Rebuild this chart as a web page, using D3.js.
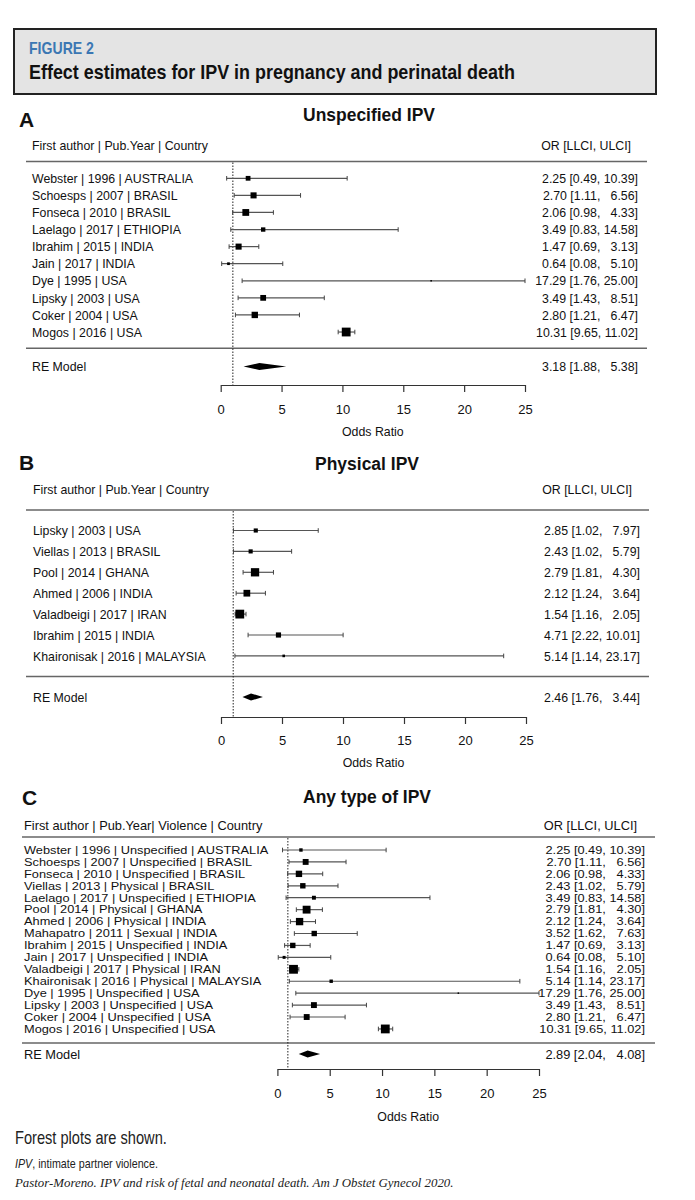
<!DOCTYPE html>
<html>
<head>
<meta charset="utf-8">
<script src="https://cdn.jsdelivr.net/npm/d3@7"></script>
<style>
  body { margin: 0; background: #fff; }
  svg { display: block; font-family: "Liberation Sans", Arial, sans-serif; }
</style>
</head>
<body>
<svg id="fig" width="695" height="1200"></svg>
<script>
// Forest plots: IPV in pregnancy and perinatal death (3 panels, metafor style).

// --- panel A: unspecified IPV
const studiesA = ['Webster | 1996 | AUSTRALIA', 'Schoesps | 2007 | BRASIL', 'Fonseca | 2010 | BRASIL',
  'Laelago | 2017 | ETHIOPIA', 'Ibrahim | 2015 | INDIA', 'Jain | 2017 | INDIA', 'Dye | 1995 | USA',
  'Lipsky | 2003 | USA', 'Coker | 2004 | USA', 'Mogos | 2016 | USA'];
const orA = [2.25, 2.70, 2.06, 3.49, 1.47, 0.64, 17.29, 3.49, 2.80, 10.31];
const lowA = [0.49, 1.11, 0.98, 0.83, 0.69, 0.08, 1.76, 1.43, 1.21, 9.65];
const highA = [10.39, 6.56, 4.33, 14.58, 3.13, 5.10, 25.00, 8.51, 6.47, 11.02];
const weightA = [7.0, 11.4, 14.3, 5.9, 11.4, 2.3, 0.7, 10.3, 12.6, 24.0];
const reA = [3.18, 1.88, 5.38];

// --- panel B: physical IPV
const studiesB = ['Lipsky | 2003 | USA', 'Viellas | 2013 | BRASIL', 'Pool | 2014 | GHANA', 'Ahmed | 2006 | INDIA',
  'Valadbeigi | 2017 | IRAN', 'Ibrahim | 2015 | INDIA', 'Khaironisak | 2016 | MALAYSIA'];
const orB = [2.85, 2.43, 2.79, 2.12, 1.54, 4.71, 5.14];
const lowB = [1.02, 1.02, 1.81, 1.24, 1.16, 2.22, 1.14];
const highB = [7.97, 5.79, 4.30, 3.64, 2.05, 10.01, 23.17];
const weightB = [6.6, 6.6, 26.5, 17.5, 29.9, 10.3, 2.6];
const reB = [2.46, 1.76, 3.44];

// --- panel C: any type of IPV
const studiesC = ['Webster | 1996 | Unspecified | AUSTRALIA', 'Schoesps | 2007 | Unspecified | BRASIL',
  'Fonseca | 2010 | Unspecified | BRASIL', 'Viellas | 2013 | Physical | BRASIL', 'Laelago | 2017 | Unspecified | ETHIOPIA',
  'Pool | 2014 | Physical | GHANA', 'Ahmed | 2006 | Physical | INDIA', 'Mahapatro | 2011 | Sexual | INDIA',
  'Ibrahim | 2015 | Unspecified | INDIA', 'Jain | 2017 | Unspecified | INDIA', 'Valadbeigi | 2017 | Physical | IRAN',
  'Khaironisak | 2016 | Physical | MALAYSIA', 'Dye | 1995 | Unspecified | USA', 'Lipsky | 2003 | Unspecified | USA',
  'Coker | 2004 | Unspecified | USA', 'Mogos | 2016 | Unspecified | USA'];
const orC = [2.25, 2.70, 2.06, 2.43, 3.49, 2.79, 2.12, 3.52, 1.47, 0.64, 1.54, 5.14, 17.29, 3.49, 2.80, 10.31];
const lowC = [0.49, 1.11, 0.98, 1.02, 0.83, 1.81, 1.24, 1.62, 0.69, 0.08, 1.16, 1.14, 1.76, 1.43, 1.21, 9.65];
const highC = [10.39, 6.56, 4.33, 5.79, 14.58, 4.30, 3.64, 7.63, 3.13, 5.10, 2.05, 23.17, 25.00, 8.51, 6.47, 11.02];
const weightC = [2.1, 6.3, 7.4, 5.3, 2.8, 11.2, 9.8, 5.3, 5.3, 1.6, 14.1, 2.1, 0.4, 6.3, 6.3, 14.1];
const reC = [2.89, 2.04, 4.08];

const xTicks = [0, 5, 10, 15, 20, 25];

const svg = d3.select('#fig');
const f2 = d3.format('.2f');
const padNum = (s, n) => (s.length < n ? '  '.repeat(n - s.length) : '') + s; // 2 spaces = 1 digit
const ciText = (o, l, h) => `${f2(o)} [${padNum(f2(l), 4)}, ${padNum(f2(h), 5)}]`;

// text with optional squeeze (sx, sy) or a target width (w)
function txt(g, x, y, s, o = {}) {
  const t = g.append('text')
    .attr('font-size', o.size || 13)
    .attr('font-weight', o.weight || null)
    .attr('font-style', o.italic ? 'italic' : null)
    .attr('font-family', o.family || null)
    .attr('fill', o.fill || '#111')
    .attr('text-anchor', o.anchor || 'start')
    .style('white-space', 'pre')
    .text(s);
  let sx = o.sx || 1;
  if (o.w) sx = o.w / t.node().getComputedTextLength();
  t.attr('transform', `translate(${x},${y}) scale(${sx},${o.sy || 1})`);
  return t;
}

// ---- header box
svg.append('rect').attr('x', 14).attr('y', 29).attr('width', 642).attr('height', 65)
  .attr('fill', '#e4e4e4').attr('stroke', '#222').attr('stroke-width', 2);
txt(svg, 29, 54, 'FIGURE 2', { size: 16, weight: 'bold', fill: '#3b77b3', w: 65 });
txt(svg, 29, 79, 'Effect estimates for IPV in pregnancy and perinatal death', { size: 21, weight: 'bold', w: 486 });

function panel(p) {
  const g = svg.append('g');
  const x = d3.scaleLinear().domain([0, 25]).range([p.x0, p.x25]);
  const sz = d3.scaleSqrt().domain([0, d3.max(p.weight)]).range([0, 8.8]);
  const rowY = (i) => p.row0 + i * p.step;
  const off = p.size * 0.36; // centre -> baseline
  const sy = p.sy || 1;      // rows of dense panels are squeezed a little

  txt(g, p.letterX, p.letterY, p.letter, { size: 21, weight: 'bold' });
  txt(g, p.titleX, p.titleY, p.title, { size: 18.5, weight: 'bold', anchor: 'middle', w: p.titleW });
  txt(g, p.labelX, p.headY + off, p.head, { size: p.size, sx: p.sx });
  txt(g, p.headRight, p.headY + off, 'OR [LLCI, ULCI]', { size: p.size, sx: p.sx, anchor: 'end' });

  g.selectAll('line.rule').data([p.ruleTop, p.ruleBottom]).join('line').attr('class', 'rule')
    .attr('x1', p.ruleX[0]).attr('x2', p.ruleX[1]).attr('y1', (d) => d).attr('y2', (d) => d)
    .attr('stroke', '#666').attr('stroke-width', 1.5);

  // reference line at OR = 1
  g.append('line').attr('x1', x(1)).attr('x2', x(1)).attr('y1', p.ruleTop + 1).attr('y2', p.axisY)
    .attr('stroke', '#222').attr('stroke-width', 1).attr('stroke-dasharray', '1.5 1.5');

  const rows = p.studies.map((s, i) => ({ s, i, or: p.or[i], lo: p.low[i], hi: p.high[i], w: p.weight[i] }));
  const r = g.selectAll('g.row').data(rows).join('g').attr('class', 'row');
  r.append('line').attr('x1', (d) => x(d.lo)).attr('x2', (d) => x(d.hi))
    .attr('y1', (d) => rowY(d.i)).attr('y2', (d) => rowY(d.i)).attr('stroke', '#555').attr('stroke-width', 1.2);
  ['lo', 'hi'].forEach((k) => r.append('line').attr('x1', (d) => x(d[k])).attr('x2', (d) => x(d[k]))
    .attr('y1', (d) => rowY(d.i) - 2.3).attr('y2', (d) => rowY(d.i) + 2.3).attr('stroke', '#444').attr('stroke-width', 1));
  r.append('rect').attr('x', (d) => x(d.or) - sz(d.w) / 2).attr('y', (d) => rowY(d.i) - sz(d.w) / 2)
    .attr('width', (d) => sz(d.w)).attr('height', (d) => sz(d.w)).attr('fill', '#000');
  r.each(function (d) {
    const el = d3.select(this);
    txt(el, p.labelX, rowY(d.i) + off * sy, d.s, { size: p.size, sx: p.sx, sy });
    txt(el, p.valRight, rowY(d.i) + off * sy, ciText(d.or, d.lo, d.hi), { size: p.size, sx: p.sx, sy, anchor: 'end' });
  });

  // pooled estimate
  const [m, lo, hi] = p.re;
  g.append('polygon').attr('fill', '#000')
    .attr('points', [[x(lo), p.reY], [x(m), p.reY - 3.6], [x(hi), p.reY], [x(m), p.reY + 3.6]].join(' '));
  txt(g, p.labelX, p.reY + off, 'RE Model', { size: p.size, sx: p.sx });
  txt(g, p.valRight, p.reY + off, ciText(m, lo, hi), { size: p.size, sx: p.sx, anchor: 'end' });

  // x axis
  const tickSize = 7, fs = 13;
  const ax = g.append('g').attr('transform', `translate(0,${p.axisY})`)
    .call(d3.axisBottom(x).tickValues(xTicks).tickFormat(d3.format('d')).tickSize(tickSize).tickSizeOuter(0)
      .tickPadding(p.tickBase - p.axisY - tickSize - 0.71 * fs));
  ax.attr('font-family', null).attr('font-size', fs);
  ax.selectAll('path, line').attr('stroke', '#333').attr('stroke-width', 1.2);
  ax.selectAll('text').attr('fill', '#111');
  txt(g, (p.x0 + p.x25) / 2, p.oddsBase, 'Odds Ratio', { size: 13, sx: 0.95, anchor: 'middle' });
}

panel({
  studies: studiesA, or: orA, low: lowA, high: highA, weight: weightA, re: reA,
  letter: 'A', letterX: 19, letterY: 127, title: 'Unspecified IPV', titleX: 369, titleY: 121, titleW: 132,
  head: 'First author | Pub.Year | Country', headY: 145, headRight: 631,
  labelX: 32, valRight: 638, size: 13, sx: 0.95,
  ruleTop: 161.5, ruleBottom: 348.3, ruleX: [26, 647],
  row0: 178.3, step: 17.08, reY: 366.5, axisY: 385,
  x0: 220.7, x25: 525, tickBase: 413.5, oddsBase: 436,
});

panel({
  studies: studiesB, or: orB, low: lowB, high: highB, weight: weightB, re: reB,
  letter: 'B', letterX: 19, letterY: 470, title: 'Physical IPV', titleX: 367, titleY: 470, titleW: 104,
  head: 'First author | Pub.Year | Country', headY: 489, headRight: 632,
  labelX: 33, valRight: 640, size: 13, sx: 0.95,
  ruleTop: 510, ruleBottom: 676.5, ruleX: [26, 649],
  row0: 530.5, step: 20.9, reY: 697, axisY: 717,
  x0: 221, x25: 526, tickBase: 744.5, oddsBase: 766.5,
});

panel({
  studies: studiesC, or: orC, low: lowC, high: highC, weight: weightC, re: reC,
  letter: 'C', letterX: 22, letterY: 805, title: 'Any type of IPV', titleX: 367, titleY: 803, titleW: 128,
  head: 'First author | Pub.Year| Violence | Country', headY: 825, headRight: 637,
  labelX: 24, valRight: 645, size: 12.8, sx: 1, sy: 0.83,
  ruleTop: 837, ruleBottom: 1043, ruleX: [22, 655],
  row0: 850, step: 11.93, reY: 1054, axisY: 1069,
  x0: 277.4, x25: 539, tickBase: 1097.5, oddsBase: 1120.5,
});

// ---- footer
txt(svg, 15, 1144, 'Forest plots are shown.', { size: 19, fill: '#222', w: 152 });
const ipv = svg.append('text').attr('font-size', 13).attr('fill', '#222');
ipv.append('tspan').attr('font-style', 'italic').text('IPV');
ipv.append('tspan').text(', intimate partner violence.');
ipv.attr('transform', `translate(15,1168) scale(${143 / ipv.node().getComputedTextLength()},1)`);
txt(svg, 15, 1187, 'Pastor-Moreno. IPV and risk of fetal and neonatal death. Am J Obstet Gynecol 2020.',
  { size: 13.5, italic: true, family: '"Liberation Serif", "DejaVu Serif", serif', fill: '#222', w: 439 });
</script>
</body>
</html>
